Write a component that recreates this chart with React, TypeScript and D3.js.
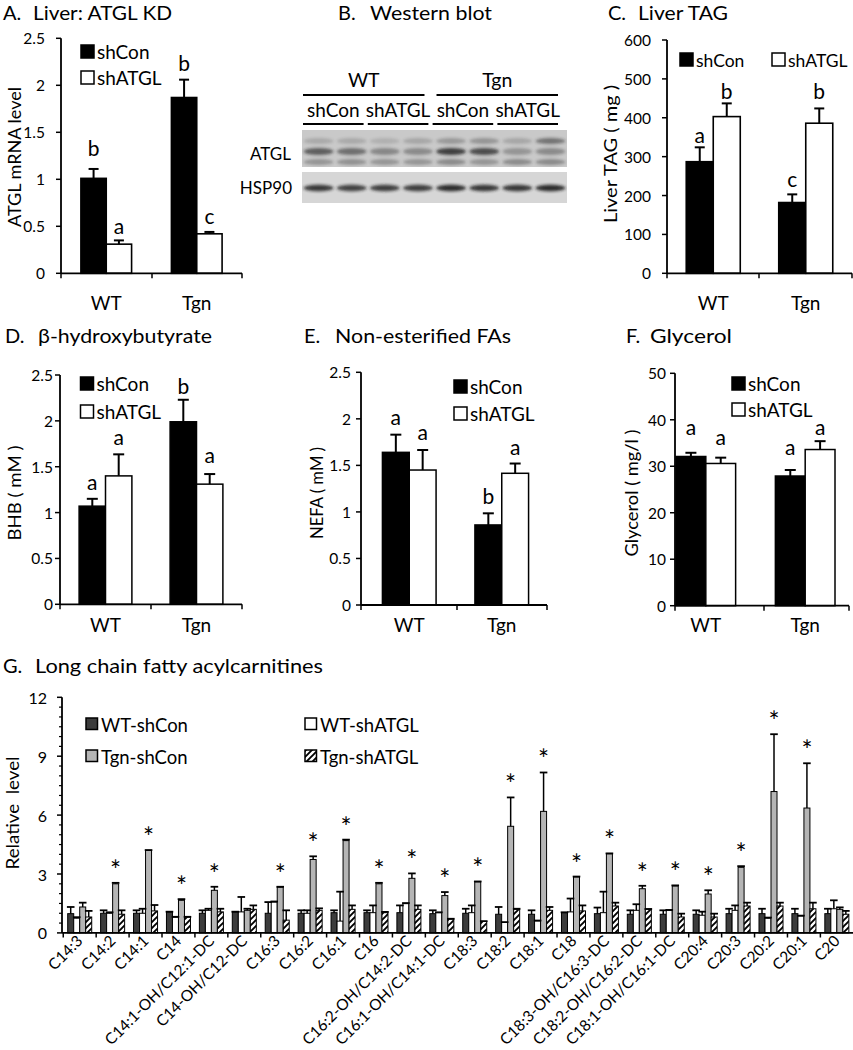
import React from "react";
import * as d3 from "d3";

const FONT = "Lato, 'Open Sans', 'DejaVu Sans', sans-serif";

// ---------- shared categories ----------
const groups = ["WT", "Tgn"];
const kdSeries = ["shCon", "shATGL"];

// ---------- A. Liver ATGL mRNA ----------
const mrnaShCon = [1.01, 1.87];
const mrnaShConSem = [0.1, 0.19];
const mrnaShATGL = [0.31, 0.42];
const mrnaShATGLSem = [0.04, 0.02];
const mrnaLettersShCon = ["b", "b"];
const mrnaLettersShATGL = ["a", "c"];
const mrnaLetterLevelShCon = [1.34, 2.245];
const mrnaLetterLevelShATGL = [0.51, 0.62];

// ---------- C. Liver TAG ----------
const tagShCon = [287, 182];
const tagShConSem = [37, 21];
const tagShATGL = [403, 386];
const tagShATGLSem = [34, 38];
const tagLettersShCon = ["a", "c"];
const tagLettersShATGL = ["b", "b"];
const tagLetterLevelShCon = [356, 244];
const tagLetterLevelShATGL = [471, 471];

// ---------- D. BHB ----------
const bhbShCon = [1.07, 1.99];
const bhbShConSem = [0.08, 0.24];
const bhbShATGL = [1.4, 1.31];
const bhbShATGLSem = [0.235, 0.11];
const bhbLettersShCon = ["a", "b"];
const bhbLettersShATGL = ["a", "a"];
const bhbLetterLevelShCon = [1.34, 2.39];
const bhbLetterLevelShATGL = [1.83, 1.63];

// ---------- E. NEFA ----------
const nefaShCon = [1.64, 0.86];
const nefaShConSem = [0.19, 0.125];
const nefaShATGL = [1.45, 1.415];
const nefaShATGLSem = [0.215, 0.105];
const nefaLettersShCon = ["a", "b"];
const nefaLettersShATGL = ["a", "a"];
const nefaLetterLevelShCon = [2.02, 1.18];
const nefaLetterLevelShATGL = [1.86, 1.7];

// ---------- F. Glycerol ----------
const glyShCon = [32.1, 27.9];
const glyShConSem = [0.8, 1.3];
const glyShATGL = [30.6, 33.6];
const glyShATGLSem = [1.25, 1.8];
const glyLettersShCon = ["a", "a"];
const glyLettersShATGL = ["a", "a"];
const glyLetterLevelShCon = [38.5, 34.2];
const glyLetterLevelShATGL = [36.4, 38.5];

// ---------- B. Western blot ----------
const blotGroups = ["WT", "Tgn"];
const blotSubGroups = ["shCon", "shATGL", "shCon ", "shATGL "];
const blotLanes = [0, 1, 2, 3, 4, 5, 6, 7];
const atglMainBand = [0.62, 0.52, 0.38, 0.36, 0.8, 0.72, 0.3, 0.36];
const atglUpperBand = [0.18, 0.18, 0.14, 0.2, 0.28, 0.3, 0.2, 0.5];
const atglLowerBand = [0.3, 0.32, 0.3, 0.3, 0.36, 0.3, 0.36, 0.36];
const hsp90Band = [0.85, 0.8, 0.82, 0.82, 0.92, 0.86, 0.86, 0.92];

// ---------- G. Long chain fatty acylcarnitines ----------
const acylCategories = [
  "C14:3", "C14:2", "C14:1", "C14", "C14:1-OH/C12:1-DC", "C14-OH/C12-DC",
  "C16:3", "C16:2", "C16:1", "C16", "C16:2-OH/C14:2-DC", "C16:1-OH/C14:1-DC",
  "C18:3", "C18:2", "C18:1", "C18", "C18:3-OH/C16:3-DC", "C18:2-OH/C16:2-DC",
  "C18:1-OH/C16:1-DC", "C20:4", "C20:3", "C20:2", "C20:1", "C20",
];
const acylSeries = ["WT-shCon", "WT-shATGL", "Tgn-shCon", "Tgn-shATGL"];
const wtShCon = [0.98, 1.0, 1.0, 1.07, 1.0, 1.07, 1.0, 1.0, 1.03, 1.03, 1.03, 0.98, 1.0, 0.95, 0.95, 1.03, 0.98, 0.95, 0.95, 0.95, 0.98, 0.98, 0.98, 0.98];
const wtShConSem = [0.34, 0.15, 0.15, 0.01, 0.15, 0.01, 0.57, 0.15, 0.12, 0.12, 0.37, 0.17, 0.23, 0.37, 0.2, 0.02, 0.31, 0.2, 0.2, 0.2, 0.25, 0.25, 0.25, 0.25];
const wtShATGL = [0.75, 1.0, 1.0, 0.8, 1.15, 1.07, 1.57, 1.0, 0.6, 1.03, 1.49, 1.03, 1.03, 0.53, 0.61, 1.07, 1.03, 1.15, 1.15, 0.9, 1.15, 0.75, 0.86, 1.23];
const wtShATGLSem = [0.05, 0.05, 0.23, 0.02, 0.08, 0.76, 0.03, 0.15, 1.5, 0.37, 0.03, 0.02, 0.37, 0.02, 0.02, 0.68, 1.07, 0.31, 0.02, 0.18, 0.25, 0.03, 0.02, 0.43];
const tgnShCon = [1.32, 2.5, 4.2, 1.66, 2.17, 1.15, 2.33, 3.74, 4.7, 2.5, 2.78, 1.9, 2.6, 5.43, 6.19, 2.85, 4.03, 2.25, 2.39, 1.98, 3.34, 7.2, 6.36, 1.2];
const tgnShConSem = [0.22, 0.05, 0.02, 0.06, 0.18, 0.08, 0.02, 0.16, 0.05, 0.05, 0.25, 0.18, 0.02, 1.47, 1.98, 0.02, 0.02, 0.15, 0.03, 0.19, 0.06, 2.92, 2.28, 0.1];
const tgnShATGL = [0.81, 0.95, 1.12, 0.8, 1.07, 1.2, 0.65, 1.15, 1.2, 1.03, 1.2, 0.7, 0.58, 1.2, 1.15, 1.12, 1.37, 1.2, 0.81, 0.81, 1.37, 1.37, 1.23, 0.95];
const tgnShATGLSem = [0.31, 0.2, 0.3, 0.02, 0.16, 0.2, 0.5, 0.1, 0.2, 0.04, 0.2, 0.02, 0.02, 0.03, 0.17, 0.28, 0.17, 0.02, 0.17, 0.17, 0.17, 0.17, 0.31, 0.17];
const tgnShConStars = ["", "*", "*", "*", "*", "", "*", "*", "*", "*", "*", "*", "*", "*", "*", "*", "*", "*", "*", "*", "*", "*", "*", ""];

type Title = { tag: string; text: string; x: number; x2: number; w: number; y: number };

type PanelCfg = {
  title: Title;
  yMax: number; yStep: number;
  axisX0: number; axisX1: number; midTick: number; yPix0: number; yPixTop: number;
  bandRange: [number, number]; padIn: number; padOut: number;
  values: number[][]; sems: number[][]; letters: string[][]; letterLevels: number[][];
  yTitle: string; yTitleX: number; yTitleY: number; yTitleLen: number;
  legend: { x: number; y: number }[]; legendFont: number; legendBox: number;
  xLabelY: number; tickGap: number; capW: number; strokeW: number;
};

const TITLE_FONT = 20;
const TICK_FONT = 15.5;
const XLABEL_FONT = 19;
const LETTER_FONT = 21;
const YTITLE_FONT = 18;

function PanelTitle({ t }: { t: Title }) {
  return (
    <g fontSize={TITLE_FONT}>
      <text x={t.x} y={t.y}>{t.tag}</text>
      <text x={t.x2} y={t.y} textLength={t.w} lengthAdjust="spacingAndGlyphs">{t.text}</text>
    </g>
  );
}

const panels: PanelCfg[] = [
  {
    title: { tag: "A.", text: "Liver: ATGL KD", x: 3, x2: 33, w: 139, y: 19.5 },
    yMax: 2.5, yStep: 0.5, axisX0: 61, axisX1: 242, midTick: 152, yPix0: 273.3, yPixTop: 38.3,
    bandRange: [61, 242], padIn: 0.44, padOut: 0.22,
    values: [mrnaShCon, mrnaShATGL], sems: [mrnaShConSem, mrnaShATGLSem],
    letters: [mrnaLettersShCon, mrnaLettersShATGL], letterLevels: [mrnaLetterLevelShCon, mrnaLetterLevelShATGL],
    yTitle: "ATGL mRNA level", yTitleX: 14, yTitleY: 157, yTitleLen: 140,
    legend: [{ x: 81, y: 45 }, { x: 81, y: 71 }], legendFont: 19, legendBox: 13,
    xLabelY: 310, tickGap: 16, capW: 10, strokeW: 1.6,
  },
  {
    title: { tag: "C.", text: "Liver TAG", x: 608, x2: 638, w: 90, y: 19.5 },
    yMax: 600, yStep: 100, axisX0: 667, axisX1: 852, midTick: 759, yPix0: 273.3, yPixTop: 40,
    bandRange: [667, 852], padIn: 0.416, padOut: 0.208,
    values: [tagShCon, tagShATGL], sems: [tagShConSem, tagShATGLSem],
    letters: [tagLettersShCon, tagLettersShATGL], letterLevels: [tagLetterLevelShCon, tagLetterLevelShATGL],
    yTitle: "Liver TAG ( mg )", yTitleX: 610, yTitleY: 154, yTitleLen: 138,
    legend: [{ x: 680, y: 53 }, { x: 772, y: 53 }], legendFont: 17.5, legendBox: 13,
    xLabelY: 310, tickGap: 16, capW: 10, strokeW: 1.6,
  },
  {
    title: { tag: "D.", text: "\u03B2-hydroxybutyrate", x: 5, x2: 38, w: 174, y: 343 },
    yMax: 2.5, yStep: 0.5, axisX0: 60, axisX1: 242, midTick: 151, yPix0: 604.3, yPixTop: 375,
    bandRange: [60, 242], padIn: 0.42, padOut: 0.21,
    values: [bhbShCon, bhbShATGL], sems: [bhbShConSem, bhbShATGLSem],
    letters: [bhbLettersShCon, bhbLettersShATGL], letterLevels: [bhbLetterLevelShCon, bhbLetterLevelShATGL],
    yTitle: "BHB ( mM )", yTitleX: 14, yTitleY: 493, yTitleLen: 95,
    legend: [{ x: 80.5, y: 377 }, { x: 80.5, y: 405 }], legendFont: 19, legendBox: 13,
    xLabelY: 632, tickGap: 7, capW: 11, strokeW: 1.5,
  },
  {
    title: { tag: "E.", text: "Non-esterified FAs", x: 304, x2: 335, w: 176, y: 343 },
    yMax: 2.5, yStep: 0.5, axisX0: 361, axisX1: 547, midTick: 457, yPix0: 605, yPixTop: 372.3,
    bandRange: [363, 548], padIn: 0.42, padOut: 0.21,
    values: [nefaShCon, nefaShATGL], sems: [nefaShConSem, nefaShATGLSem],
    letters: [nefaLettersShCon, nefaLettersShATGL], letterLevels: [nefaLetterLevelShCon, nefaLetterLevelShATGL],
    yTitle: "NEFA ( mM )", yTitleX: 316, yTitleY: 493, yTitleLen: 92,
    legend: [{ x: 454, y: 380 }, { x: 454, y: 407 }], legendFont: 19, legendBox: 13,
    xLabelY: 632, tickGap: 10, capW: 11, strokeW: 1.5,
  },
  {
    title: { tag: "F.", text: "Glycerol", x: 626, x2: 650, w: 82, y: 343 },
    yMax: 50, yStep: 10, axisX0: 675, axisX1: 849, midTick: 764, yPix0: 605.7, yPixTop: 373.3,
    bandRange: [676, 835], padIn: 0.4, padOut: 0,
    values: [glyShCon, glyShATGL], sems: [glyShConSem, glyShATGLSem],
    letters: [glyLettersShCon, glyLettersShATGL], letterLevels: [glyLetterLevelShCon, glyLetterLevelShATGL],
    yTitle: "Glycerol ( mg/l )", yTitleX: 631, yTitleY: 493, yTitleLen: 127,
    legend: [{ x: 732, y: 377 }, { x: 732, y: 403 }], legendFont: 19, legendBox: 13,
    xLabelY: 632, tickGap: 9, capW: 11, strokeW: 1.5,
  },
];

const kdFills = ["#000000", "#ffffff"];

function GroupedPanel({ p }: { p: PanelCfg }) {
  const y = d3.scaleLinear().domain([0, p.yMax]).range([p.yPix0, p.yPixTop]);
  const x0 = d3.scaleBand<string>().domain(groups).range(p.bandRange).paddingInner(p.padIn).paddingOuter(p.padOut);
  const x1 = d3.scaleBand<string>().domain(kdSeries).range([0, x0.bandwidth()]);
  const ticks = d3.range(0, p.yMax + p.yStep / 2, p.yStep);
  const fmt = d3.format("~g");
  return (
    <g>
      <PanelTitle t={p.title} />
      {kdSeries.map((s, si) =>
        groups.map((g, gi) => {
          const v = p.values[si][gi];
          const bx = (x0(g) as number) + (x1(s) as number);
          const bw = x1.bandwidth();
          const top = y(v);
          const et = y(v + p.sems[si][gi]);
          const cx = bx + bw / 2;
          return (
            <g key={s + g}>
              <line x1={cx} x2={cx} y1={top} y2={et} stroke="#000" strokeWidth={2} />
              <line x1={cx - p.capW / 2} x2={cx + p.capW / 2} y1={et} y2={et} stroke="#000" strokeWidth={2} />
              <rect x={bx} y={top} width={bw} height={p.yPix0 - top} fill={kdFills[si]} stroke="#000" strokeWidth={p.strokeW} />
              <text x={cx} y={y(p.letterLevels[si][gi])} fontSize={LETTER_FONT} textAnchor="middle" dominantBaseline="central">{p.letters[si][gi]}</text>
            </g>
          );
        })
      )}
      <line x1={p.axisX0} x2={p.axisX0} y1={p.yPixTop} y2={p.yPix0} stroke="#000" strokeWidth={1.8} />
      {ticks.map((t) => (
        <g key={t}>
          <line x1={p.axisX0 - 5} x2={p.axisX0} y1={y(t)} y2={y(t)} stroke="#000" strokeWidth={1.5} />
          <text x={p.axisX0 - p.tickGap} y={y(t)} fontSize={TICK_FONT} textAnchor="end" dominantBaseline="central">{fmt(t)}</text>
        </g>
      ))}
      <line x1={p.axisX0} x2={p.axisX1} y1={p.yPix0} y2={p.yPix0} stroke="#000" strokeWidth={1.8} />
      {[p.axisX0, p.midTick, p.axisX1].map((t) => (
        <line key={t} x1={t} x2={t} y1={p.yPix0} y2={p.yPix0 + 5} stroke="#000" strokeWidth={1.5} />
      ))}
      {groups.map((g) => (
        <text key={g} x={(x0(g) as number) + x0.bandwidth() / 2} y={p.xLabelY} fontSize={XLABEL_FONT} textAnchor="middle">{g}</text>
      ))}
      <text transform={`translate(${p.yTitleX},${p.yTitleY}) rotate(-90)`} fontSize={YTITLE_FONT} textAnchor="middle" dominantBaseline="central"
        textLength={p.yTitleLen} lengthAdjust="spacingAndGlyphs" style={{ whiteSpace: "pre" }}>{p.yTitle}</text>
      {kdSeries.map((s, si) => (
        <g key={s}>
          <rect x={p.legend[si].x} y={p.legend[si].y} width={p.legendBox} height={p.legendBox} fill={kdFills[si]} stroke="#000" strokeWidth={1.5} />
          <text x={p.legend[si].x + p.legendBox + 3} y={p.legend[si].y + p.legendBox + 0.5} fontSize={p.legendFont}>{s}</text>
        </g>
      ))}
    </g>
  );
}

function WesternBlot() {
  const lane = d3.scaleBand<number>().domain(blotLanes).range([302, 567]).paddingInner(0.1).paddingOuter(0.05);
  const head = d3.scaleBand<string>().domain(blotGroups).range([303, 558]).paddingInner(0.09);
  const sub = d3.scaleBand<string>().domain(blotSubGroups).range([303, 558]).paddingInner(0.065);
  const band = (vals: number[], cy: number, h: number, key: string) =>
    blotLanes.map((l, i) => (
      <ellipse key={key + l} cx={(lane(l) as number) + lane.bandwidth() / 2} cy={cy} rx={lane.bandwidth() / 2} ry={h}
        fill="#1a1a1a" opacity={vals[i]} filter="url(#blur1)" />
    ));
  return (
    <g>
      <PanelTitle t={{ tag: "B.", text: "Western blot", x: 338, x2: 370, w: 122, y: 19.5 }} />
      {blotGroups.map((g) => (
        <g key={g}>
          <text x={(head(g) as number) + head.bandwidth() / 2} y={87} fontSize={19.5} textAnchor="middle">{g}</text>
          <line x1={head(g) as number} x2={(head(g) as number) + head.bandwidth()} y1={95} y2={95} stroke="#000" strokeWidth={2} />
        </g>
      ))}
      {blotSubGroups.map((g) => (
        <g key={g}>
          <text x={(sub(g) as number) + sub.bandwidth() / 2} y={117} fontSize={19} textAnchor="middle">{g.trim()}</text>
          <line x1={sub(g) as number} x2={(sub(g) as number) + sub.bandwidth()} y1={124} y2={124} stroke="#000" strokeWidth={2} />
        </g>
      ))}
      <text x={291} y={160} fontSize={17} textAnchor="end">ATGL</text>
      <text x={292} y={194} fontSize={17} textAnchor="end">HSP90</text>
      <clipPath id="clipAtgl"><rect x={302} y={130} width={265} height={37} /></clipPath>
      <clipPath id="clipHsp"><rect x={302} y={172} width={265} height={31} /></clipPath>
      <g clipPath="url(#clipAtgl)">
        <rect x={302} y={130} width={265} height={37} fill="#c9c9c9" />
        {band(atglUpperBand, 141, 3, "u")}
        {band(atglMainBand, 151.5, 3.5, "m")}
        {band(atglLowerBand, 162, 3, "l")}
      </g>
      <g clipPath="url(#clipHsp)">
        <rect x={302} y={172} width={265} height={31} fill="#d6d6d6" />
        {band(hsp90Band, 188, 3.2, "h")}
      </g>
    </g>
  );
}

const acylFills = ["#3c3c3c", "#ffffff", "#b5b5b5", "url(#hatch)"];

function AcylPanel() {
  const x = d3.scaleBand<string>().domain(acylCategories).range([63.25, 853.3]);
  const xi = d3.scaleBand<string>().domain(acylSeries).range([4.45, x.step() - 4.45]);
  const y = d3.scaleLinear().domain([0, 12]).range([932.9, 697.3]);
  const vals = [wtShCon, wtShATGL, tgnShCon, tgnShATGL];
  const sems = [wtShConSem, wtShATGLSem, tgnShConSem, tgnShATGLSem];
  const majors = [0, 3, 6, 9, 12];
  const minors = d3.range(0, 12.01, 0.5).filter((v) => !majors.includes(v));
  const legendPos = [{ x: 86, y: 718 }, { x: 305, y: 718 }, { x: 86, y: 750 }, { x: 305, y: 750 }];
  const bw = xi.bandwidth();
  return (
    <g>
      <PanelTitle t={{ tag: "G.", text: "Long chain fatty acylcarnitines", x: 3, x2: 35, w: 288, y: 673 }} />
      {acylSeries.map((s, si) =>
        acylCategories.map((c, ci) => {
          const bx = (x(c) as number) + (xi(s) as number);
          const top = y(vals[si][ci]);
          return <rect key={s + c} x={bx} y={top} width={bw} height={y(0) - top} fill={acylFills[si]} stroke="#000" strokeWidth={1} />;
        })
      )}
      {acylSeries.map((s, si) =>
        acylCategories.map((c, ci) => {
          const cx = (x(c) as number) + (xi(s) as number) + bw / 2;
          const top = y(vals[si][ci]);
          const et = y(vals[si][ci] + sems[si][ci]);
          return (
            <g key={"e" + s + c}>
              <line x1={cx} x2={cx} y1={top} y2={et} stroke="#000" strokeWidth={1.5} />
              <line x1={cx - 3.8} x2={cx + 3.8} y1={et} y2={et} stroke="#000" strokeWidth={1.8} />
            </g>
          );
        })
      )}
      {acylCategories.map((c, ci) => {
        const cx = (x(c) as number) + (xi("Tgn-shCon") as number) + bw / 2;
        const et = y(tgnShCon[ci] + tgnShConSem[ci]);
        return tgnShConStars[ci] ? (
          <text key={"s" + c} x={cx} y={et - 3} fontSize={26} textAnchor="middle">{tgnShConStars[ci]}</text>
        ) : null;
      })}
      <line x1={62} x2={62} y1={697.3} y2={932.9} stroke="#000" strokeWidth={1.8} />
      {majors.map((t) => (
        <g key={t}>
          <line x1={57} x2={62} y1={y(t)} y2={y(t)} stroke="#000" strokeWidth={1.5} />
          <text x={47} y={y(t)} fontSize={16} textAnchor="end" dominantBaseline="central">{t}</text>
        </g>
      ))}
      {minors.map((t) => (
        <line key={"m" + t} x1={59} x2={62} y1={y(t)} y2={y(t)} stroke="#000" strokeWidth={1.2} />
      ))}
      <line x1={62} x2={853} y1={932.9} y2={932.9} stroke="#000" strokeWidth={1.8} />
      {acylCategories.map((c) => (
        <line key={"t" + c} x1={x(c) as number} x2={x(c) as number} y1={932.9} y2={937.5} stroke="#000" strokeWidth={1.5} />
      ))}
      {acylCategories.map((c) => {
        const cx = (x(c) as number) + x.step() / 2;
        return (
          <text key={"l" + c} transform={`translate(${cx + 4},${942}) rotate(-45)`} fontSize={15.5} textAnchor="end">{c}</text>
        );
      })}
      <text transform="translate(12,813) rotate(-90)" fontSize={18} textAnchor="middle" dominantBaseline="central"
        textLength={113} lengthAdjust="spacingAndGlyphs" style={{ whiteSpace: "pre" }}>Relative  level</text>
      {acylSeries.map((s, si) => (
        <g key={"lg" + s}>
          <rect x={legendPos[si].x} y={legendPos[si].y} width={11.5} height={11.5} fill={acylFills[si]} stroke="#000" strokeWidth={1.5} />
          <text x={legendPos[si].x + 15} y={legendPos[si].y + 13.5} fontSize={18.5}>{s}</text>
        </g>
      ))}
    </g>
  );
}

export default function App() {
  return (
    <svg width={853} height={1050} style={{ position: "absolute", left: 0, top: 0, background: "#fff" }} fontFamily={FONT}>
      <defs>
        <pattern id="hatch" patternUnits="userSpaceOnUse" width={6} height={6}>
          <rect width={6} height={6} fill="#fff" />
          <path d="M0,6 L6,0 M-1.5,1.5 L1.5,-1.5 M4.5,7.5 L7.5,4.5" stroke="#000" strokeWidth={1.9} />
        </pattern>
        <filter id="blur1" x="-50%" y="-50%" width="200%" height="200%">
          <feGaussianBlur stdDeviation="1.8" />
        </filter>
      </defs>
      <rect width={853} height={1050} fill="#fff" />
      {panels.map((p) => (
        <GroupedPanel key={p.title.tag} p={p} />
      ))}
      <WesternBlot />
      <AcylPanel />
    </svg>
  );
}
